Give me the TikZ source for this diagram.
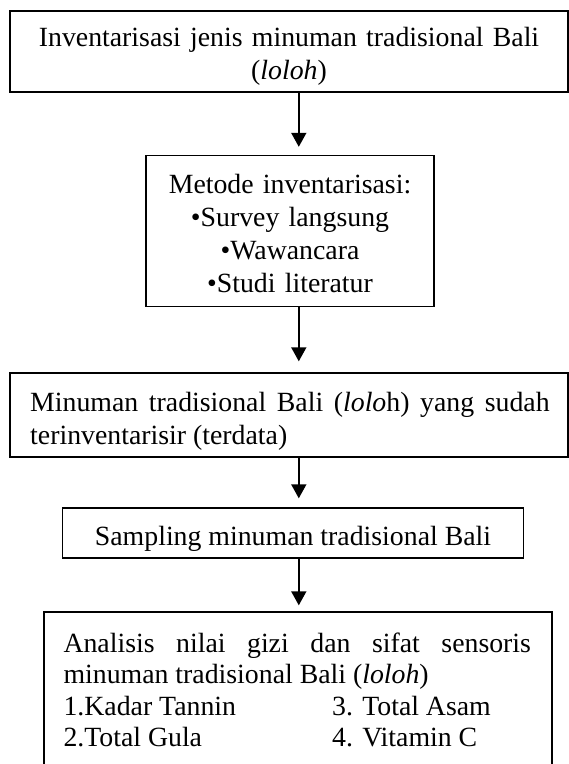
\documentclass[tikz,border=0pt]{standalone}
\usepackage{fontspec}
\setmainfont{Liberation Serif}
\usetikzlibrary{arrows.meta}
\begin{document}
\begin{tikzpicture}[x=1pt,y=-1pt,
  box/.style={draw, line width=1.4pt, inner sep=0pt},
  txt/.style={inner sep=0pt, font=\fontsize{27.8}{33}\selectfont},
  arr/.style={line width=1.7pt, -{Triangle[width=15pt,length=14pt]}}]
\useasboundingbox (0,0) rectangle (569,764);
\clip (0,0) rectangle (569,764);
% boxes
\node[box, minimum width=558pt, minimum height=81pt] (b1) at (289,51.5) {};
\node[box, minimum width=288pt, minimum height=151pt] (b2) at (290,231) {};
\node[box, minimum width=558pt, minimum height=84pt] (b3) at (289,415) {};
\node[box, minimum width=461pt, minimum height=50pt] (b4) at (293,533) {};
\node[box, minimum width=508pt, minimum height=180pt] (b5) at (298,702) {};
% texts
\node[txt, anchor=base, text width=540pt, align=center] (t1) at (289,46.7)
  {\baselineskip=34.3pt Inventarisasi jenis minuman tradisional Bali\\(\textit{loloh})};
\node[txt, anchor=base, text width=280pt, align=center] (t2) at (290,193)
  {\baselineskip=33.3pt Metode inventarisasi:\\•Survey langsung\\•Wawancara\\•Studi literatur};
\node[txt, anchor=base west, text width=519.5pt, align=justify] (t3) at (30,411.7)
  {\baselineskip=31pt Minuman tradisional Bali (\textit{lolo}h) yang sudah\linebreak terinventarisir (terdata)};
\node[txt, anchor=base] (t4) at (293,545) {Sampling minuman tradisional Bali};
\node[txt, anchor=base west, text width=467.5pt, align=justify] (t5) at (63.3,652)
  {\baselineskip=31.5pt Analisis nilai gizi dan sifat sensoris\linebreak minuman tradisional Bali (\textit{loloh})\par
   \makebox[268.7pt][l]{1.Kadar Tannin}3. Total Asam\par
   \makebox[268.7pt][l]{2.Total Gula}4. Vitamin C\par};
% connectors
\coordinate (ax) at (298.8,0);
\draw[arr, shorten >=8pt] (b1.south -| ax) -- (b2.north -| ax);
\draw[arr, shorten >=11pt] (b2.south -| ax) -- (b3.north -| ax);
\draw[arr, shorten >=9pt] (b3.south -| ax) -- (b4.north -| ax);
\draw[arr, shorten >=6pt] (b4.south -| ax) -- (b5.north -| ax);
\end{tikzpicture}
\end{document}
